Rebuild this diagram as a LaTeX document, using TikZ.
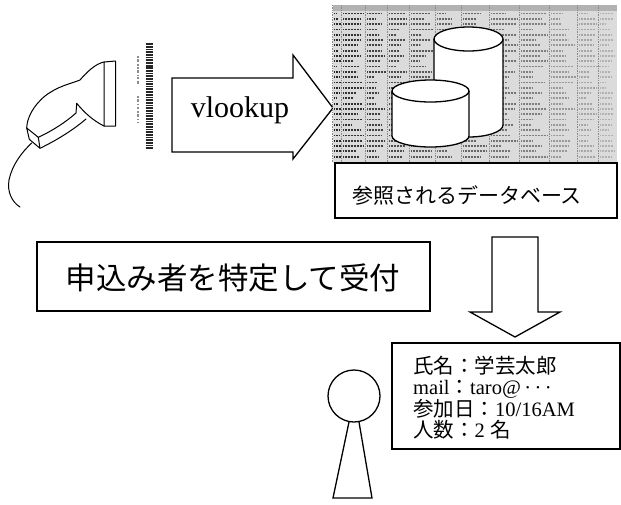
\documentclass[tikz,border=0pt]{standalone}
\usepackage{fontspec}
\setmainfont{Liberation Serif}
\newfontfamily\jp{Noto Sans CJK JP}
\begin{document}
\begin{tikzpicture}[x=1pt,y=-1pt,
  outline/.style={line width=1.3pt, line join=miter},
  sketch/.style={line width=1pt, line join=round, line cap=round},
  blockarrow/.style={outline, fill=white},
  textbox/.style={outline, fill=white},
  cell/.style={line width=1.8pt, dash pattern=on 0.9pt off 0.6pt},
  cyl/.style={line width=1.3pt, fill=white}]
\useasboundingbox (0,0) rectangle (621,504);

% ---------- hand scanner ----------
\draw[sketch] (104,62) .. controls (95,64) and (87,72) .. (80,80)
  .. controls (70,84) and (58,86) .. (45,96)
  .. controls (33,106) and (27,118) .. (26.7,128);
\draw[sketch] (26.7,128) -- (38.3,137.3) -- (40,148.3) -- (29.3,139.3) -- cycle;
\draw[sketch] (38.3,137.3) .. controls (52,131) and (66,122) .. (76,113) -- (76.7,103.3)
  .. controls (84,112) and (92,120) .. (104,126);
\draw[sketch] (40,148.3) .. controls (55,141) and (72,131) .. (86,119);
\draw[sketch] (104,62) -- (115.5,61) -- (115.5,126) -- (104,126) -- cycle;
\draw[sketch] (31.7,143) .. controls (22,152) and (12,165) .. (9,180)
  .. controls (7,192) and (12,202) .. (20,207);

% ---------- bar code label ----------
\pgfmathsetseed{11}
\foreach \by in {43,44.6,...,150} {
  \pgfmathsetmacro\bw{0.4+0.9*rnd}
  \draw[line width=\bw pt, black!85] (145.5,\by) -- (152.5,\by);
}
\draw[line width=2.2pt, black!45, dash pattern=on 2pt off 1.2pt on 3pt off 2pt on 1.5pt off 1pt]
  (138,56) -- (138,84);
\draw[line width=2.2pt, black!45, dash pattern=on 1.5pt off 1.5pt on 2.5pt off 2pt]
  (138,96) -- (138,122);

% ---------- lookup arrow ----------
\draw[blockarrow] (172,78) -- (293,78) -- (293,55) -- (333,108) -- (293,159)
  -- (293,152) -- (172,152) -- cycle;
\node[font=\fontsize{30}{30}\selectfont] (vlookup) at (240,110) {vlookup};

% ---------- spreadsheet with database ----------
\fill[black!14] (333,5) rectangle (617,163);
\fill[black!30] (333,5) rectangle (617,11);
\pgfmathsetseed{3}
\foreach \cx/\cw/\sh in {334/7/85, 343/21/80, 367/19/75, 389/19/70, 411/23/65,
    437/23/60, 463/25/60, 491/27/55, 521/27/50, 551/25/40, 579/21/35, 600/15/30} {
  \foreach \ry in {13.5,18.8,...,160} {
    \pgfmathsetmacro\len{\cw*(0.35+0.65*rnd)}
    \draw[cell, black!\sh] (\cx,\ry) -- ++(\len,0);
  }
  \draw[black!45, line width=0.7pt, densely dotted] (\cx-1.5,5) -- (\cx-1.5,163);
}
% back cylinder
\draw[cyl] (434,39) -- (434,125) arc[start angle=180, end angle=360, x radius=34.5pt, y radius=12pt]
  -- (503,39);
\draw[cyl] (468.5,39) ellipse [x radius=34.5pt, y radius=12pt];
% front cylinder
\draw[cyl] (392,91) -- (392,136) arc[start angle=180, end angle=360, x radius=38.5pt, y radius=11pt]
  -- (469,91);
\draw[cyl] (430.5,91) ellipse [x radius=38.5pt, y radius=11pt];

\draw[textbox] (335,163) rectangle (617,218);
\node[font=\jp\fontsize{21}{21}\selectfont] (dblabel) at (467,195) {参照されるデータベース};

% ---------- identification ----------
\draw[textbox] (37,242) rectangle (430,311);
\node[font=\jp\fontsize{30.5}{30.5}\selectfont] (identify) at (233,278) {申込み者を特定して受付};

% ---------- result arrow ----------
\draw[blockarrow] (492,237) -- (538,237) -- (538,312) -- (560,312) -- (515,337)
  -- (470,312) -- (492,312) -- cycle;

% ---------- registrant record ----------
\draw[textbox] (392,343) rectangle (620,449);
\node[anchor=north west, align=left, inner sep=0pt,
      font=\fontsize{20.5}{21.3}\selectfont] (record) at (413,356)
  {{\jp 氏名：学芸太郎}\\
   mail{\jp ：}taro@\,·\,·\,·\\
   {\jp 参加日：}10/16AM\\
   {\jp 人数：}2 {\jp 名}};

% ---------- person ----------
\draw[outline] (354,396) circle[radius=26pt];
\draw[outline] (349,422) -- (333,498) -- (372,498) -- (359,422);
\end{tikzpicture}
\end{document}
